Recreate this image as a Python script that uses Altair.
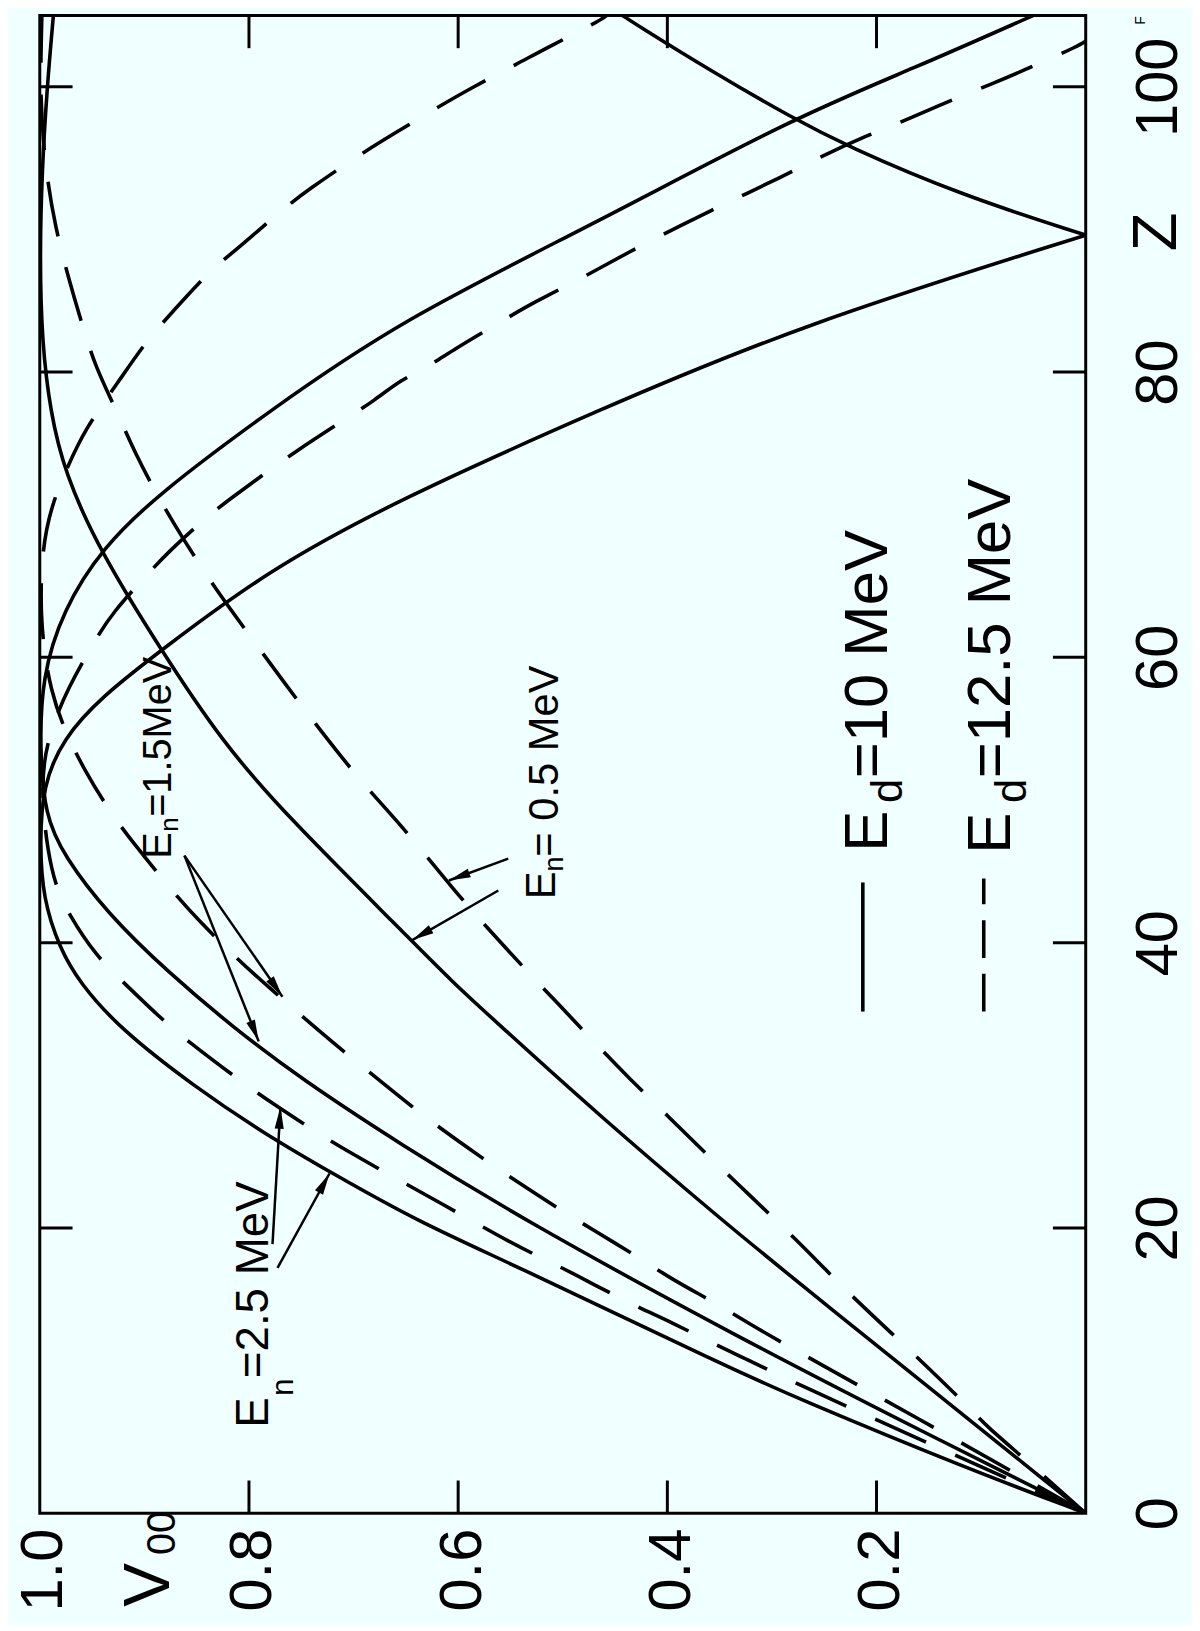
import math
import altair as alt
import pandas as pd

# ---------------- data (Z, V00) ----------------
# E_d = 10 MeV (solid)
S25_Z = [0, 3.3, 8.1, 10.2, 17.5, 20.4, 23.9, 26.6, 29.9, 34.0, 37.2, 39.6, 43.1, 47.0, 51.0, 54.3, 57.3, 60.5, 66.1, 71.1, 77.2, 83.2, 89.6]
S25_V = [0, 0.119, 0.277, 0.341, 0.549, 0.637, 0.722, 0.785, 0.852, 0.924, 0.962, 0.981, 0.997, 1.0, 0.997, 0.978, 0.940, 0.884, 0.782, 0.656, 0.470, 0.277, 0.0]
S25B_Z = [89.6, 92.4, 95.9, 97.8, 101.0, 104.6, 105.0]
S25B_V = [0.0, 0.119, 0.230, 0.280, 0.356, 0.435, 0.443]
S15_Z = [0, 5.5, 12.4, 20.5, 25.9, 30.5, 34.0, 37.9, 42.1, 46.1, 48.9, 53.5, 58.6, 63.3, 67.7, 71.5, 77.2, 83.6, 90.5, 97.8, 101.3, 105.0]
S15_V = [0, 0.150, 0.334, 0.536, 0.656, 0.751, 0.814, 0.877, 0.936, 0.977, 0.995, 1.0, 0.998, 0.978, 0.940, 0.886, 0.782, 0.656, 0.467, 0.280, 0.164, 0.050]
S05_Z = [0, 16.3, 20.5, 28.0, 34.4, 37.2, 40.7, 48.9, 54.1, 60.5, 67.5, 72.9, 77.2, 82.2, 88.0, 94.0, 100.0, 105.0]
S05_V = [0, 0.277, 0.347, 0.467, 0.563, 0.605, 0.652, 0.764, 0.826, 0.884, 0.943, 0.976, 0.990, 0.998, 1.0, 0.998, 0.993, 0.987]

# E_d = 12.5 MeV (dashed)
D25_Z = [0, 4.5, 9.1, 10.9, 11.6, 13.5, 14.4, 16.1, 17.2, 18.9, 21.9, 23.6, 25.2, 26.4, 28.7, 30.4, 33.0, 34.8, 37.5, 39.0, 41.9, 44.7, 51.0, 54.5, 57.9, 61.2, 63.1, 65.9, 67.4, 69.8, 71.0, 73.1, 74.3, 76.7, 78.0, 79.4, 80.4, 81.5, 83.7, 84.8, 86.8, 88.3, 90.4, 91.9, 93.7, 94.9, 96.6, 97.8, 99.4, 100.0, 101.5, 102.9, 103.2]
D25_V = [0, 0.138, 0.277, 0.327, 0.348, 0.399, 0.427, 0.472, 0.500, 0.549, 0.620, 0.663, 0.701, 0.729, 0.777, 0.810, 0.857, 0.886, 0.924, 0.945, 0.972, 0.990, 1.0, 0.992, 0.973, 0.947, 0.931, 0.896, 0.877, 0.841, 0.820, 0.781, 0.758, 0.708, 0.680, 0.656, 0.628, 0.606, 0.555, 0.530, 0.476, 0.440, 0.384, 0.342, 0.290, 0.259, 0.209, 0.167, 0.118, 0.096, 0.048, 0.006, 0.0]
D15_Z = [0, 5.0, 11.4, 13.3, 14.7, 16.5, 17.8, 19.9, 21.4, 23.3, 24.8, 27.4, 29.2, 32.3, 33.5, 36.8, 38.9, 41.7, 43.5, 47.1, 49.4, 52.2, 54.4, 57.5, 62.5, 67.7, 70.8, 73.1, 76.0, 79.4, 82.2, 84.3, 87.0, 88.7, 91.4, 92.8, 95.1, 96.6, 98.5, 99.9, 101.7, 102.7, 104.6, 105.0]
D15_V = [0, 0.120, 0.277, 0.322, 0.353, 0.398, 0.424, 0.472, 0.505, 0.545, 0.575, 0.625, 0.656, 0.708, 0.728, 0.780, 0.812, 0.850, 0.872, 0.912, 0.935, 0.958, 0.973, 0.990, 1.0, 0.998, 0.988, 0.975, 0.957, 0.924, 0.898, 0.872, 0.839, 0.810, 0.768, 0.743, 0.697, 0.664, 0.621, 0.588, 0.541, 0.516, 0.465, 0.458]
D05_Z = [0, 3.8, 6.1, 7.6, 10.3, 12.1, 14.9, 17.1, 19.2, 22.2, 25.7, 27.6, 30.6, 32.8, 36.0, 37.9, 41.2, 43.5, 48.4, 51.1, 55.1, 58.1, 62.1, 64.9, 68.3, 71.0, 74.3, 77.2, 80.4, 83.2, 86.7, 90.1, 93.9, 99.0, 105.0]
D05_V = [0, 0.058, 0.095, 0.114, 0.152, 0.178, 0.219, 0.249, 0.277, 0.320, 0.370, 0.396, 0.438, 0.467, 0.508, 0.533, 0.574, 0.602, 0.656, 0.691, 0.734, 0.765, 0.805, 0.833, 0.863, 0.885, 0.909, 0.926, 0.947, 0.959, 0.973, 0.985, 0.994, 1.0, 0.998]

# axis tick values
V_TICKS = [0.2, 0.4, 0.6, 0.8]
V_LABELS = [0.2, 0.4, 0.6, 0.8, 1.0]
Z_TICKS = [20, 40, 60, 80, 100]
Z_LABELS = [0, 20, 40, 60, 80, 100]

# annotation texts (anchored in data units: V, Z)
ANN_TXT = ["E", "n", "=2.5 MeV", "E", "n", "=1.5MeV", "E", "n", "= 0.5 MeV",
           "E", "d", "=10 MeV", "E", "d", "=12.5 MeV", "V", "00", "F"]
ANN_V = [0.7822, 0.7576, 0.7822, 0.8741, 0.8674, 0.8741, 0.5076, 0.5000, 0.5047,
         0.1903, 0.1761, 0.1903, 0.0720, 0.0568, 0.0720, 0.8769, 0.8703, -0.0568]
ANN_Z = [5.99, 8.22, 9.47, 45.89, 47.77, 48.82, 43.04, 44.99, 46.03,
         46.38, 49.79, 51.53, 46.24, 49.79, 51.53, -6.55, -2.93, 104.35]
ANN_FS = [46, 32, 46, 40, 26, 40, 42, 27, 42,
          62, 44, 62, 62, 44, 62, 66, 40, 14]

# arrows (start -> tip)
AR_V1 = [0.7775, 0.7727, 0.8617, 0.8617, 0.5521, 0.5616]
AR_Z1 = [18.87, 17.20, 46.10, 46.10, 45.89, 43.66]
AR_V2 = [0.7699, 0.7230, 0.7907, 0.7680, 0.6089, 0.6439]
AR_Z2 = [28.48, 23.82, 33.08, 36.21, 44.36, 40.18]

# legend samples
LEG_STYLE = ["solid", "dashed"]
LEG_V = [0.2131, 0.0975]
LEG_Z1 = [35.17, 35.17]
LEG_Z2 = [44.22, 44.50]

# ---------------- layout / style ----------------
W, H = 1053, 1508
Z_MAX = 105.0
FONT = "Liberation Sans, Arial, sans-serif"
BG = "#f0ffff"
LW = 3.6
TICK_PX = 33
LABEL_FS = 60

rows = []
for name, zs, vs, style in [
    ("S25a", S25_Z, S25_V, "solid"), ("S25b", S25B_Z, S25B_V, "solid"),
    ("S15", S15_Z, S15_V, "solid"), ("S05", S05_Z, S05_V, "solid"),
    ("D25", D25_Z, D25_V, "dashed"), ("D15", D15_Z, D15_V, "dashed"),
    ("D05", D05_Z, D05_V, "dashed")]:
    for z, v in zip(zs, vs):
        rows.append({"curve": name, "Z": z, "V": v, "style": style})
df = pd.DataFrame(rows)

xs = alt.Scale(domain=[0, 1], reverse=True, nice=False, zero=False)
ys = alt.Scale(domain=[0, Z_MAX], nice=False, zero=False)

xaxis = alt.Axis(values=V_LABELS, format=".1f", labelAngle=270, labelAlign="right",
                 labelBaseline="middle", labelPadding=15, labelOffset=4,
                 labelFontSize=LABEL_FS, labelFont=FONT,
                 labelColor="black", labelFlush=False, labelOverlap=False, labelBound=False,
                 ticks=False, tickSize=0, domain=False, grid=False, title=None)
yaxis = alt.Axis(orient="right", values=Z_LABELS, format="d", labelAngle=270, labelAlign="center",
                 labelBaseline="alphabetic", labelPadding=91, labelFontSize=LABEL_FS, labelFont=FONT,
                 labelColor="black", labelFlush=False, labelOverlap=False, labelBound=False,
                 ticks=False, tickSize=0, domain=False, grid=False, title=None)
X = alt.X("V:Q", scale=xs, axis=xaxis)
Y = alt.Y("Z:Q", scale=ys, axis=yaxis)

solid = alt.Chart(df[df["style"] == "solid"]).mark_line(
    color="black", strokeWidth=LW, interpolate="basis", clip=True
).encode(x=X, y=Y, detail="curve:N", order=alt.Order("Z:Q"))

dashed = alt.Chart(df[df["style"] == "dashed"]).mark_line(
    color="black", strokeWidth=LW, interpolate="basis", clip=True, strokeDash=[56, 32]
).encode(x=X, y=Y, detail="curve:N", order=alt.Order("Z:Q"))

# inward ticks on all four sides
tv = TICK_PX / W
tz = TICK_PX * Z_MAX / H
th = pd.DataFrame([{"Z": z, "V": 1.0, "V2": 1.0 - tv} for z in Z_TICKS] +
                  [{"Z": z, "V": 0.0, "V2": tv} for z in Z_TICKS])
tvv = pd.DataFrame([{"V": v, "Z": 0.0, "Z2": tz} for v in V_TICKS] +
                   [{"V": v, "Z": Z_MAX, "Z2": Z_MAX - tz} for v in V_TICKS])
ticks_h = alt.Chart(th).mark_rule(color="black", strokeWidth=3).encode(
    x=X, x2=alt.X2("V2:Q"), y=Y)
ticks_v = alt.Chart(tvv).mark_rule(color="black", strokeWidth=3).encode(
    x=X, y=Y, y2=alt.Y2("Z2:Q"))

# legend samples
leg = pd.DataFrame({"style": LEG_STYLE, "V": LEG_V, "Z": LEG_Z1, "Z2": LEG_Z2})
leg_solid = alt.Chart(leg[leg["style"] == "solid"]).mark_rule(
    color="black", strokeWidth=LW).encode(x=X, y=Y, y2=alt.Y2("Z2:Q"))
leg_dash = alt.Chart(leg[leg["style"] == "dashed"]).mark_rule(
    color="black", strokeWidth=LW, strokeDash=[38, 16]).encode(x=X, y=Y, y2=alt.Y2("Z2:Q"))

# arrows
px_v = W
px_z = H / Z_MAX
ang = []
for v1, z1, v2, z2 in zip(AR_V1, AR_Z1, AR_V2, AR_Z2):
    dx = -(v2 - v1) * px_v
    dy = -(z2 - z1) * px_z
    ang.append(math.degrees(math.atan2(dx, -dy)) % 360)
arr = pd.DataFrame({"V": AR_V1, "Z": AR_Z1, "V2": AR_V2, "Z2": AR_Z2, "ang": ang})
arrow_lines = alt.Chart(arr).mark_rule(color="black", strokeWidth=2.5).encode(
    x=X, y=Y, x2=alt.X2("V2:Q"), y2=alt.Y2("Z2:Q"))
heads = pd.DataFrame({"V": AR_V2, "Z": AR_Z2, "ang": ang})
arrow_heads = alt.Chart(heads).mark_point(
    shape="M0,0L0.42,2L-0.42,2Z", filled=True, color="black", opacity=1, size=480, strokeWidth=0
).encode(x=X, y=Y, angle=alt.Angle("ang:Q", scale=None))

# texts
ann = pd.DataFrame({"txt": ANN_TXT, "V": ANN_V, "Z": ANN_Z, "fs": ANN_FS})
texts = alt.Chart(ann).mark_text(
    angle=270, align="left", baseline="alphabetic", font=FONT, color="black"
).encode(x=X, y=Y, text="txt:N", size=alt.Size("fs:Q", scale=None))

zlab = pd.DataFrame({"txt": ["Z"], "V": [-0.0864], "Z": [89.83]})
ztext = alt.Chart(zlab).mark_text(
    angle=270, align="center", baseline="alphabetic", font=FONT, color="black", fontSize=64
).encode(x=X, y=Y, text="txt:N")

chart = alt.layer(
    solid, dashed, ticks_h, ticks_v, leg_solid, leg_dash,
    arrow_lines, arrow_heads, texts, ztext
).properties(
    width=W, height=H,
    padding={"left": 32, "top": 2, "right": 107, "bottom": 107},
    autosize=alt.AutoSizeParams(type="none"),
    background=BG,
).configure_view(stroke="black", strokeWidth=3)

chart.save("out.html", embed_options={"renderer": "svg", "actions": False})
